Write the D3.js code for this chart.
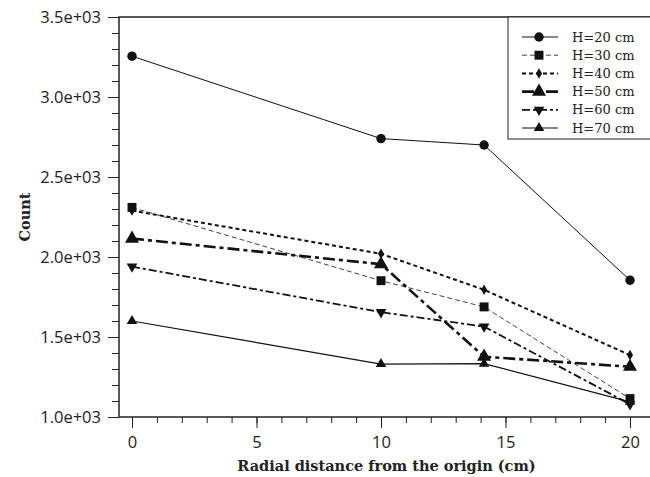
<!DOCTYPE html>
<html>
<head>
<meta charset="utf-8">
<script src="https://cdn.jsdelivr.net/npm/d3@7"></script>
<style>
    body { margin: 0; background: #fff; }
</style>
</head>
<body>
<div id="chart"></div>
<script>
"use strict";

var radialPos = [0, 10, 14.14, 20];
var count20 = [3255, 2740, 2700, 1855];
var count30 = [2310, 1852, 1688, 1115];
var count40 = [2290, 2020, 1795, 1387];
var count50 = [2115, 1955, 1377, 1314];
var count60 = [1940, 1655, 1565, 1080];
var count70 = [1600, 1331, 1333, 1095];
var seriesNames = ["H=20 cm", "H=30 cm", "H=40 cm", "H=50 cm", "H=60 cm", "H=70 cm"];
var xTickValues = [0, 5, 10, 15, 20];
var yTickValues = [1000, 1500, 2000, 2500, 3000, 3500];

(function () {
    var width = 650,
        height = 477,
        plot = { left: 119, right: 655, top: 17, bottom: 417 },
        labelFont = "'Open Sans', 'Noto Sans', sans-serif",
        serifFont = "'DejaVu Serif', serif",
        svg, x, y, line, series, legend;

    svg = d3.select("#chart").append("svg")
        .attr("width", width)
        .attr("height", height);

    x = d3.scaleLinear().domain([0, 20]).range([132, 630]);
    y = d3.scaleLinear().domain([1000, 3500]).range([plot.bottom, plot.top]);

    // line style and marker for each height
    series = [
        { values: count20, width: 1, dash: null, symbol: d3.symbolCircle, size: 70 },
        { values: count30, width: 0.8, dash: "5,3", symbol: d3.symbolSquare, size: 80 },
        { values: count40, width: 2, dash: "4,3", symbol: d3.symbolDiamond, size: 32 },
        { values: count50, width: 2.6, dash: "12,4,4,4", symbol: d3.symbolTriangle, size: 85 },
        { values: count60, width: 1.8, dash: "8,3,3,3", symbol: d3.symbolTriangle, size: 50, flip: true },
        { values: count70, width: 1.2, dash: null, symbol: d3.symbolTriangle, size: 48 }
    ];

    // frame
    svg.append("rect")
        .attr("x", plot.left).attr("y", plot.top)
        .attr("width", plot.right - plot.left)
        .attr("height", plot.bottom - plot.top)
        .attr("fill", "none").attr("stroke", "#222").attr("stroke-width", 1.5);

    function styleAxis(g) {
        g.select(".domain").remove();
        g.selectAll(".tick line").attr("stroke", "#222");
        g.selectAll(".tick text")
            .attr("fill", "#222")
            .style("font-size", "16.5px")
            .style("font-family", labelFont);
    }

    // x axis
    svg.append("g")
        .attr("transform", "translate(0," + plot.bottom + ")")
        .call(d3.axisBottom(x).tickValues(d3.range(0, 21, 1)).tickSize(6).tickFormat(""))
        .call(styleAxis);

    svg.append("g")
        .attr("transform", "translate(0," + plot.bottom + ")")
        .call(d3.axisBottom(x).tickValues(xTickValues).tickSize(11).tickPadding(8))
        .call(styleAxis);

    // y axis
    svg.append("g")
        .attr("transform", "translate(" + plot.left + ",0)")
        .call(d3.axisLeft(y).tickValues(d3.range(1000, 3501, 100)).tickSize(7).tickFormat(""))
        .call(styleAxis);

    svg.append("g")
        .attr("transform", "translate(" + plot.left + ",0)")
        .call(d3.axisLeft(y).tickValues(yTickValues).tickSize(11).tickPadding(7)
            .tickFormat(function (d) { return d3.format(".1e")(d).replace("e+3", "e+03"); }))
        .call(styleAxis);

    // axis titles
    svg.append("text")
        .attr("x", (plot.left + 650) / 2 + 2)
        .attr("y", 471)
        .attr("text-anchor", "middle")
        .attr("font-family", serifFont).attr("font-weight", "bold")
        .attr("font-size", 14.5).attr("fill", "#222")
        .text("Radial distance from the origin (cm)");

    svg.append("text")
        .attr("transform", "translate(30," + ((plot.top + plot.bottom) / 2) + ") rotate(-90)")
        .attr("text-anchor", "middle")
        .attr("font-family", serifFont).attr("font-weight", "bold")
        .attr("font-size", 14.5).attr("fill", "#222")
        .text("Count");

    line = d3.line()
        .x(function (d, i) { return x(radialPos[i]); })
        .y(function (d) { return y(d); });

    function marker(s) {
        return d3.symbol().type(s.symbol).size(s.size)();
    }

    series.forEach(function (s) {
        svg.append("path")
            .attr("d", line(s.values))
            .attr("fill", "none")
            .attr("stroke", "#111")
            .attr("stroke-width", s.width)
            .attr("stroke-dasharray", s.dash);

        svg.selectAll(null)
            .data(s.values).enter().append("path")
            .attr("d", marker(s))
            .attr("fill", "#111")
            .attr("transform", function (d, i) {
                return "translate(" + x(radialPos[i]) + "," + y(d) + ")" +
                    (s.flip ? " rotate(180)" : "");
            });
    });

    // legend
    legend = svg.append("g");
    legend.append("rect")
        .attr("x", 508).attr("y", 17)
        .attr("width", 160).attr("height", 122)
        .attr("fill", "#fff").attr("stroke", "#222").attr("stroke-width", 1);

    series.forEach(function (s, i) {
        var ly = 37 + i * 18.2;
        legend.append("line")
            .attr("x1", 522).attr("x2", 558)
            .attr("y1", ly).attr("y2", ly)
            .attr("stroke", "#111")
            .attr("stroke-width", s.width)
            .attr("stroke-dasharray", s.dash);
        legend.append("path")
            .attr("d", marker(s))
            .attr("fill", "#111")
            .attr("transform", "translate(539," + ly + ")" + (s.flip ? " rotate(180)" : ""));
        legend.append("text")
            .attr("x", 572).attr("y", ly)
            .attr("dy", "0.35em")
            .attr("font-family", serifFont).attr("font-size", 13).attr("fill", "#222")
            .text(seriesNames[i]);
    });
}());
</script>
</body>
</html>
